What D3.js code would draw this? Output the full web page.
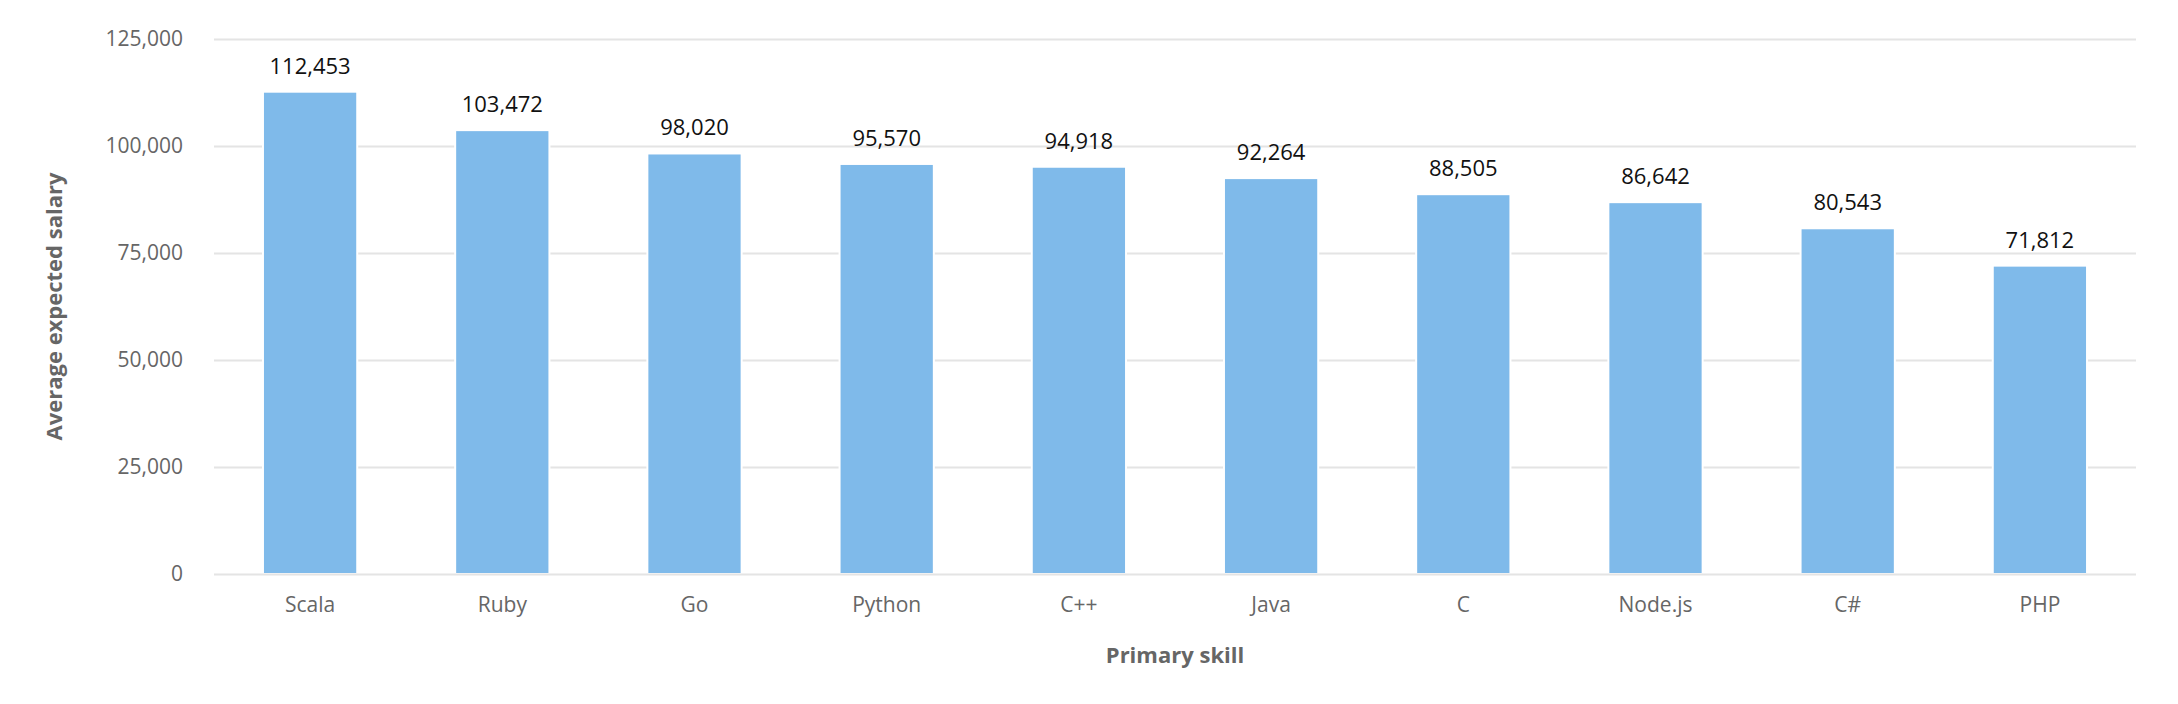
<!DOCTYPE html>
<html>
<head>
<meta charset="utf-8">
<script src="https://cdn.jsdelivr.net/npm/d3@7"></script>
<style>
  html, body { margin: 0; padding: 0; background: #fff; }
  #chart { width: 2178px; height: 704px; }
  text { font-family: "Open Sans", "Noto Sans", sans-serif; }
</style>
</head>
<body>
<div id="chart"></div>
<script>
"use strict";

// data
const skills = ["Scala", "Ruby", "Go", "Python", "C++", "Java", "C", "Node.js", "C#", "PHP"];
const salaries = [112453, 103472, 98020, 95570, 94918, 92264, 88505, 86642, 80543, 71812];
const yTicks = [0, 25000, 50000, 75000, 100000, 125000];

document.addEventListener("DOMContentLoaded", function() {
  drawChart();
});

function drawChart() {
  let widthAll = 2178;
  let heightAll = 704;
  let margin = {top: 39, right: 42, bottom: 130, left: 214};
  let width = widthAll - margin.left - margin.right;
  let height = heightAll - margin.top - margin.bottom;

  let data = skills.map((s, i) => ({name: s, value: salaries[i]}));

  let svg = d3.select("#chart").append("svg")
    .attr("width", widthAll)
    .attr("height", heightAll);

  let g = svg.append("g")
    .attr("transform", `translate(${margin.left},${margin.top})`);

  let x = d3.scaleBand().domain(skills).range([0, width]).paddingInner(0.52).paddingOuter(0.26);
  let y = d3.scaleLinear().domain([0, 125000]).range([height, 0]);
  let fmt = d3.format(",");

  // gridlines
  g.append("g")
    .attr("class", "grid")
    .call(d3.axisLeft(y).tickValues(yTicks).tickSize(-width).tickFormat(""))
    .call(a => a.select(".domain").remove())
    .selectAll("line")
    .attr("stroke", "#e4e4e4")
    .attr("stroke-width", 2);

  // y tick labels
  g.append("g")
    .attr("class", "axis axis-y")
    .attr("transform", "translate(-31,0)")
    .call(d3.axisLeft(y).tickValues(yTicks).tickSize(0).tickFormat(fmt))
    .call(a => a.select(".domain").remove())
    .selectAll("text")
    .attr("x", 0)
    .attr("fill", "#666")
    .style("font-size", "21px");

  // x tick labels
  g.append("g")
    .attr("class", "axis axis-x")
    .attr("transform", `translate(0,${height})`)
    .call(d3.axisBottom(x).tickSize(0))
    .call(a => a.select(".domain").remove())
    .selectAll("text")
    .attr("y", 0)
    .attr("dy", 38)
    .attr("fill", "#666")
    .style("font-size", "21px");

  // white halo so gridlines stop short of the bars
  g.selectAll(".halo")
    .data(data)
    .enter()
    .append("rect")
    .attr("class", "halo")
    .attr("x", d => x(d.name) - 2)
    .attr("y", d => y(d.value))
    .attr("width", x.bandwidth() + 4)
    .attr("height", d => height - y(d.value) - 1)
    .attr("fill", "#fff");

  g.selectAll(".bar")
    .data(data)
    .enter()
    .append("rect")
    .attr("class", "bar")
    .attr("x", d => x(d.name))
    .attr("y", d => y(d.value))
    .attr("width", x.bandwidth())
    .attr("height", d => height - y(d.value) - 1)
    .attr("fill", "#7fbaea");

  // value labels
  g.selectAll(".label")
    .data(data)
    .enter()
    .append("text")
    .attr("class", "label")
    .attr("x", d => x(d.name) + x.bandwidth() / 2)
    .attr("y", d => y(d.value) - 19)
    .attr("text-anchor", "middle")
    .attr("fill", "#111")
    .style("font-size", "22px")
    .text(d => fmt(d.value));

  // axis titles
  g.append("text")
    .attr("x", width / 2)
    .attr("y", height + 89)
    .attr("text-anchor", "middle")
    .attr("fill", "#666")
    .style("font-size", "22px")
    .style("font-weight", "bold")
    .text("Primary skill");

  g.append("text")
    .attr("transform", "rotate(-90)")
    .attr("x", -height / 2)
    .attr("y", 62 - margin.left)
    .attr("text-anchor", "middle")
    .attr("fill", "#666")
    .style("font-size", "22px")
    .style("font-weight", "bold")
    .text("Average expected salary");
}
</script>
</body>
</html>
